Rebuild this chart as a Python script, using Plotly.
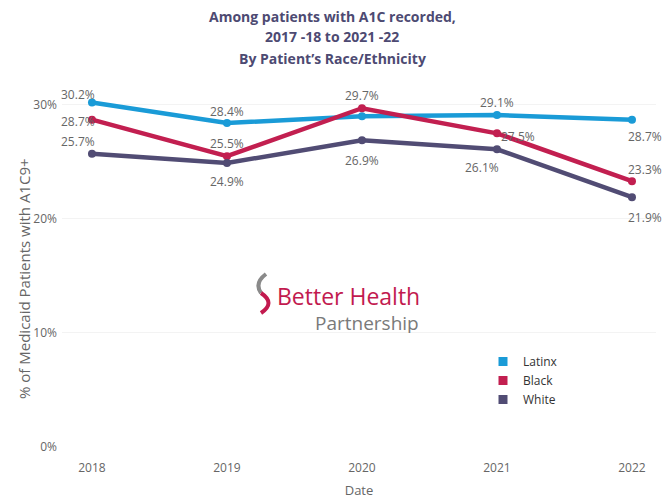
import plotly.graph_objects as go

years = ["2018", "2019", "2020", "2021", "2022"]
latinx = [30.2, 28.4, 29.0, 29.1, 28.7]
black = [28.7, 25.5, 29.7, 27.5, 23.3]
white = [25.7, 24.9, 26.9, 26.1, 21.9]
latinx_labels = ["30.2%", "28.4%", "", "29.1%", "28.7%"]
black_labels = ["28.7%", "25.5%", "29.7%", "27.5%", "23.3%"]
white_labels = ["25.7%", "24.9%", "26.9%", "26.1%", "21.9%"]
y_ticks = [0, 10, 20, 30]
y_tick_text = ["0%", "10%", "20%", "30%"]
title_lines = ["Among patients with A1C recorded,", "2017 -18 to 2021 -22", "By Patient\u2019s Race/Ethnicity"]
y_title = "% of Medicaid Patients with A1C9+"
x_title = "Date"

# label offsets (pixels) – styling only
lat_off = [(-14, 8), (0, 12), (0, 0), (0, 13), (13, -17)]
blk_off = [(-14, -2), (0, 13), (0, 13), (21, -3), (13, 12)]
wht_off = [(-14, 12), (0, -19), (0, -20), (-15, -18), (13, -20)]

C_LAT = "#1a9bd7"
C_BLK = "#c21f50"
C_WHT = "#514c74"

W, H = 664, 504
PL, PR, PT, PB = 62, 656, 82, 447   # plot area in page pixels
ML, MR, MT, MB = PL, W - PR, PT, H - PB
PW = PR - PL
PH = PB - PT


def X(px):
    return (px - PL) / PW


def Y(py):
    return (PB - py) / PH


fig = go.Figure()
series = [("Latinx", latinx, latinx_labels, lat_off, C_LAT),
          ("Black", black, black_labels, blk_off, C_BLK),
          ("White", white, white_labels, wht_off, C_WHT)]

for name, vals, labs, offs, col in series:
    fig.add_trace(go.Scatter(x=years, y=vals, mode="lines+markers", name=name,
                             line=dict(color=col, width=4.5),
                             marker=dict(color=col, size=8),
                             showlegend=False, hoverinfo="x+y"))
for name, vals, labs, offs, col in series:
    fig.add_trace(go.Scatter(x=[None], y=[None], mode="markers", name=name,
                             marker=dict(color=col, size=9, symbol="square"),
                             showlegend=True))

annotations = []
for name, vals, labs, offs, col in series:
    for i, (yv, t, (dx, dy)) in enumerate(zip(vals, labs, offs)):
        if t:
            annotations.append(dict(x=i, y=yv, xref="x", yref="y", text=t, showarrow=False,
                                    xshift=dx, yshift=dy, xanchor="center", yanchor="middle",
                                    font=dict(family="Open Sans", size=12, color="#666666")))

for line, py in zip(title_lines, [17, 37, 58]):
    annotations.append(dict(xref="paper", yref="paper", x=X(332), y=Y(py), text="<b>" + line + "</b>",
                            showarrow=False, xanchor="center", yanchor="middle",
                            font=dict(family="Open Sans", size=14, color="#4d4a72")))

# y-axis title
annotations.append(dict(xref="paper", yref="paper", x=X(24), y=Y(279), text=y_title,
                        textangle=-90, showarrow=False, xanchor="center", yanchor="middle",
                        font=dict(family="Open Sans", size=15, color="#666666")))

# logo
annotations.append(dict(xref="paper", yref="paper", x=X(275), y=Y(296), text="Better Health",
                        showarrow=False, xanchor="left", yanchor="middle", height=24,
                        font=dict(family="Open Sans", size=23, color="#c21a4f")))
annotations.append(dict(xref="paper", yref="paper", x=X(421), y=Y(323), text="Partnership",
                        showarrow=False, xanchor="right", yanchor="middle", height=20,
                        font=dict(family="Open Sans", size=19, color="#7a7a7a")))

shapes = [
    dict(type="path", xref="paper", yref="paper",
         path=f"M {X(266)},{Y(274)} Q {X(254)},{Y(283)} {X(261)},{Y(293)}",
         line=dict(color="#8a8a8a", width=4)),
    dict(type="path", xref="paper", yref="paper",
         path=f"M {X(261)},{Y(293)} Q {X(276)},{Y(303)} {X(261)},{Y(313)}",
         line=dict(color="#c21a4f", width=4)),
]

fig.update_layout(
    width=W, height=H,
    margin=dict(l=ML, r=MR, t=MT, b=MB, autoexpand=False),
    paper_bgcolor="white", plot_bgcolor="white",
    font=dict(family="Open Sans", size=12, color="#666666"),
    annotations=annotations, shapes=shapes,
    legend=dict(x=X(483), y=Y(347), xanchor="left", yanchor="top",
                font=dict(family="Open Sans", size=12, color="#333333"),
                itemwidth=30, tracegroupgap=0, bgcolor="rgba(0,0,0,0)"),
    xaxis=dict(type="category", range=[-0.222, 4.178], showgrid=False, showline=False,
               zeroline=False, ticks="", ticklabelstandoff=12,
               tickfont=dict(family="Open Sans", size=12, color="#666666"),
               title=dict(text=x_title, standoff=10,
                          font=dict(family="Open Sans", size=13, color="#666666"))),
    yaxis=dict(range=[0, 32], tickvals=y_ticks, ticktext=y_tick_text,
               showgrid=True, gridcolor="#f3f3f3", gridwidth=1, zeroline=False,
               showline=False, ticks="", ticklabelstandoff=4,
               tickfont=dict(family="Open Sans", size=12, color="#666666")),
)

fig.write_html("out.html", config={"displayModeBar": False},
               post_script="document.body.style.margin='0';document.body.style.overflow='hidden';")
